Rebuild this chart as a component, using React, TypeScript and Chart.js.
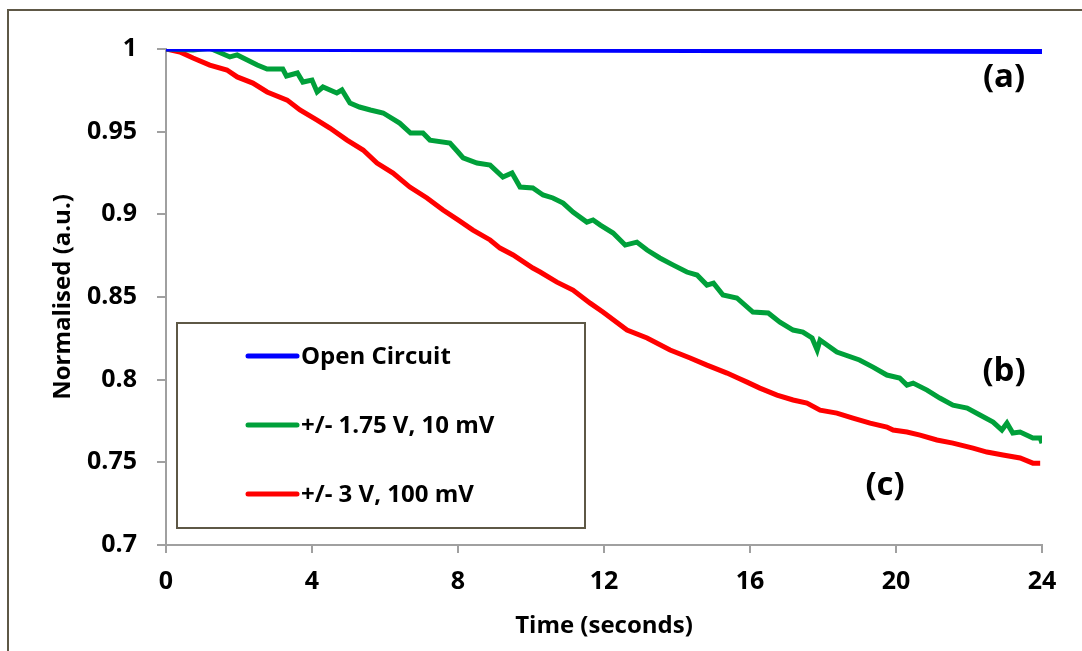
import React, { useEffect, useRef } from 'react';
import { Chart, registerables } from 'chart.js';

Chart.register(...registerables);

// ---- Data ----
const seriesLabels = ['Open Circuit', '+/- 1.75 V, 10 mV', '+/- 3 V, 100 mV'];
const seriesColors = ['#0000FF', '#00A03A', '#FF0000'];

const openTime = [0, 12, 24];
const openValue = [1.0, 0.9993, 0.9985];

const greenTime = [0, 0.74, 1.2, 1.75, 1.95, 2.5, 2.77, 3.2, 3.3, 3.6, 3.75, 4.0, 4.14, 4.3, 4.68, 4.82, 5.04, 5.3, 5.6, 5.95, 6.4, 6.7, 7.04, 7.23, 7.78, 8.0, 8.14, 8.52, 8.88, 9.23, 9.48, 9.7, 10.05, 10.33, 10.6, 10.88, 11.15, 11.53, 11.7, 11.9, 12.25, 12.58, 12.9, 13.18, 13.53, 13.9, 14.27, 14.55, 14.82, 15.0, 15.26, 15.64, 16.08, 16.5, 16.82, 17.18, 17.45, 17.7, 17.84, 17.92, 18.38, 19.0, 19.37, 19.75, 20.1, 20.3, 20.47, 20.85, 21.2, 21.56, 21.95, 22.3, 22.66, 22.9, 23.04, 23.2, 23.4, 23.75, 23.95, 24.0];
const greenValue = [1.0, 0.9994, 1.0005, 0.9952, 0.9964, 0.9903, 0.9879, 0.9879, 0.9837, 0.9855, 0.98, 0.9812, 0.974, 0.977, 0.9734, 0.9752, 0.9673, 0.9649, 0.9631, 0.9613, 0.9552, 0.9492, 0.9492, 0.9449, 0.9431, 0.9377, 0.9341, 0.931, 0.9298, 0.9226, 0.925, 0.9165, 0.9159, 0.9117, 0.9099, 0.9068, 0.9014, 0.8953, 0.8966, 0.8935, 0.8887, 0.8814, 0.8832, 0.8784, 0.8736, 0.8693, 0.8651, 0.8633, 0.8572, 0.8584, 0.8512, 0.8494, 0.8409, 0.8403, 0.8348, 0.83, 0.8288, 0.8252, 0.8179, 0.824, 0.8167, 0.8119, 0.8076, 0.8028, 0.801, 0.7967, 0.7979, 0.7937, 0.7889, 0.7846, 0.7828, 0.7786, 0.7743, 0.7695, 0.7737, 0.7677, 0.7683, 0.7647, 0.7647, 0.7616];

const redTime = [0, 0.38, 0.74, 1.2, 1.67, 1.95, 2.38, 2.77, 3.32, 3.67, 4.14, 4.49, 4.96, 5.4, 5.78, 6.22, 6.68, 7.15, 7.59, 8.0, 8.41, 8.88, 9.15, 9.51, 10.05, 10.25, 10.71, 11.15, 11.62, 11.97, 12.63, 13.18, 13.81, 14.36, 14.82, 15.37, 15.67, 15.92, 16.27, 16.74, 17.18, 17.56, 17.92, 18.38, 18.82, 19.29, 19.75, 19.92, 20.3, 20.66, 21.12, 21.56, 22.11, 22.49, 22.93, 23.4, 23.75, 23.95];
const redValue = [1.0, 0.9982, 0.9946, 0.9903, 0.9873, 0.9831, 0.9794, 0.974, 0.9691, 0.9631, 0.957, 0.9522, 0.9449, 0.9389, 0.931, 0.925, 0.9165, 0.9099, 0.9026, 0.8966, 0.8905, 0.8845, 0.8796, 0.8754, 0.8675, 0.8651, 0.859, 0.8542, 0.8463, 0.8409, 0.83, 0.8252, 0.8179, 0.8131, 0.8088, 0.804, 0.801, 0.7985, 0.7949, 0.7907, 0.7877, 0.7858, 0.7816, 0.7798, 0.7768, 0.7737, 0.7713, 0.7695, 0.7683, 0.7665, 0.7635, 0.7616, 0.7586, 0.7562, 0.7544, 0.7526, 0.7495, 0.7495];

const xTickValues = [0, 4, 8, 12, 16, 20, 24];
const xTickLabels = ['0', '4', '8', '12', '16', '20', '24'];
const yTickValues = [0.7, 0.75, 0.8, 0.85, 0.9, 0.95, 1];
const yTickLabels = ['0.7', '0.75', '0.8', '0.85', '0.9', '0.95', '1'];

const xTitle = 'Time (seconds)';
const yTitle = 'Normalised (a.u.)';

const annotationLabels = ['(a)', '(b)', '(c)'];
const annotationX = [22.96, 22.96, 19.7];
const annotationY = [0.9825, 0.8046, 0.7362];

const FONT = '"Open Sans", Lato, sans-serif';

function pair(t: number[], v: number[]) {
  return t.map((x, i) => ({ x, y: v[i] }));
}

function labelFor(values: number[], labels: string[], v: number) {
  const i = values.findIndex((p) => Math.abs(p - v) < 1e-6);
  return i >= 0 ? labels[i] : '';
}

const framePlugin = {
  id: 'frame',
  beforeDraw(chart: any) {
    const ctx = chart.ctx;
    ctx.save();
    ctx.fillStyle = '#ffffff';
    ctx.fillRect(0, 0, chart.width, chart.height);
    ctx.strokeStyle = '#5E5846';
    ctx.lineWidth = 2;
    ctx.strokeRect(8, 10, chart.width + 20, chart.height + 20);
    ctx.restore();
  },
  afterDraw(chart: any) {
    const ctx = chart.ctx;
    const xs = chart.scales.x;
    const ys = chart.scales.y;
    ctx.save();
    // legend box
    ctx.strokeStyle = '#5E5846';
    ctx.lineWidth = 2;
    ctx.fillStyle = '#ffffff';
    ctx.fillRect(177, 323, 408, 205);
    ctx.strokeRect(177, 323, 408, 205);
    const rows = [356, 425, 494];
    chart.data.datasets.forEach((ds: any, i: number) => {
      ctx.strokeStyle = ds.borderColor;
      ctx.lineWidth = 5;
      ctx.lineCap = 'round';
      ctx.beginPath();
      ctx.moveTo(248, rows[i]);
      ctx.lineTo(297, rows[i]);
      ctx.stroke();
      ctx.fillStyle = '#000000';
      ctx.font = `bold 24px ${FONT}`;
      ctx.textAlign = 'left';
      ctx.textBaseline = 'middle';
      ctx.fillText(ds.label, 301, rows[i] + 1);
    });
    // annotations
    ctx.fillStyle = '#000000';
    ctx.font = `bold 33px ${FONT}`;
    ctx.textAlign = 'center';
    ctx.textBaseline = 'middle';
    annotationLabels.forEach((txt, i) => {
      ctx.fillText(txt, xs.getPixelForValue(annotationX[i]), ys.getPixelForValue(annotationY[i]));
    });
    ctx.restore();
  },
};

export default function App() {
  const ref = useRef<HTMLCanvasElement | null>(null);

  useEffect(() => {
    document.body.style.margin = '0';
    let chart: Chart | null = null;
    let cancelled = false;
    const make = () => {
      if (cancelled || !ref.current) return;
      const axisColor = '#A0A0A0';
      const tickFont = { family: FONT, weight: 'bold', size: 25 };
      const titleFont = { family: FONT, weight: 'bold', size: 24 };
      chart = new Chart(ref.current, {
        type: 'line',
        data: {
          datasets: [
            { label: seriesLabels[0], data: pair(openTime, openValue), borderColor: seriesColors[0], backgroundColor: seriesColors[0], borderWidth: 5, pointRadius: 0, tension: 0 },
            { label: seriesLabels[1], data: pair(greenTime, greenValue), borderColor: seriesColors[1], backgroundColor: seriesColors[1], borderWidth: 5, pointRadius: 0, tension: 0 },
            { label: seriesLabels[2], data: pair(redTime, redValue), borderColor: seriesColors[2], backgroundColor: seriesColors[2], borderWidth: 5, pointRadius: 0, tension: 0 },
          ],
        },
        options: {
          responsive: false,
          animation: false,
          events: [],
          layout: { padding: { top: 49, right: 40, left: 0, bottom: 0 } },
          plugins: { legend: { display: false }, tooltip: { enabled: false } },
          scales: {
            x: {
              type: 'linear',
              min: 0,
              max: 24,
              afterBuildTicks: (s: any) => { s.ticks = xTickValues.map((v) => ({ value: v })); },
              afterFit: (s: any) => { s.height = 106; },
              ticks: {
                callback: (v: any) => labelFor(xTickValues, xTickLabels, Number(v)),
                font: tickFont,
                color: '#000000',
                padding: 14,
                maxRotation: 0,
              },
              grid: { drawOnChartArea: false, tickLength: 8, color: axisColor, lineWidth: 2 },
              border: { color: axisColor, width: 2 },
              title: {
                display: true,
                text: xTitle,
                font: titleFont,
                color: '#000000',
                padding: { top: 0, bottom: 10 },
              },
            },
            y: {
              type: 'linear',
              min: 0.7,
              max: 1,
              afterBuildTicks: (s: any) => { s.ticks = yTickValues.map((v) => ({ value: v })); },
              afterFit: (s: any) => { s.width = 166; },
              ticks: {
                callback: (v: any) => labelFor(yTickValues, yTickLabels, Number(v)),
                font: tickFont,
                color: '#000000',
                padding: 20,
              },
              grid: { drawOnChartArea: false, tickLength: 9, color: axisColor, lineWidth: 2 },
              border: { color: axisColor, width: 2 },
              title: {
                display: true,
                text: yTitle,
                font: titleFont,
                color: '#000000',
                padding: { top: 49, bottom: 0 },
              },
            },
          },
        } as any,
        plugins: [framePlugin],
      });
    };
    const fontsApi: any = (document as any).fonts;
    if (fontsApi && fontsApi.load) {
      fontsApi.load(`bold 24px "Open Sans"`).then(make, make);
    } else {
      make();
    }
    return () => {
      cancelled = true;
      if (chart) chart.destroy();
    };
  }, []);

  return (
    <div style={{ width: 1082, height: 651, overflow: 'hidden' }}>
      <canvas ref={ref} width={1082} height={651} style={{ display: 'block', width: 1082, height: 651 }} />
    </div>
  );
}
